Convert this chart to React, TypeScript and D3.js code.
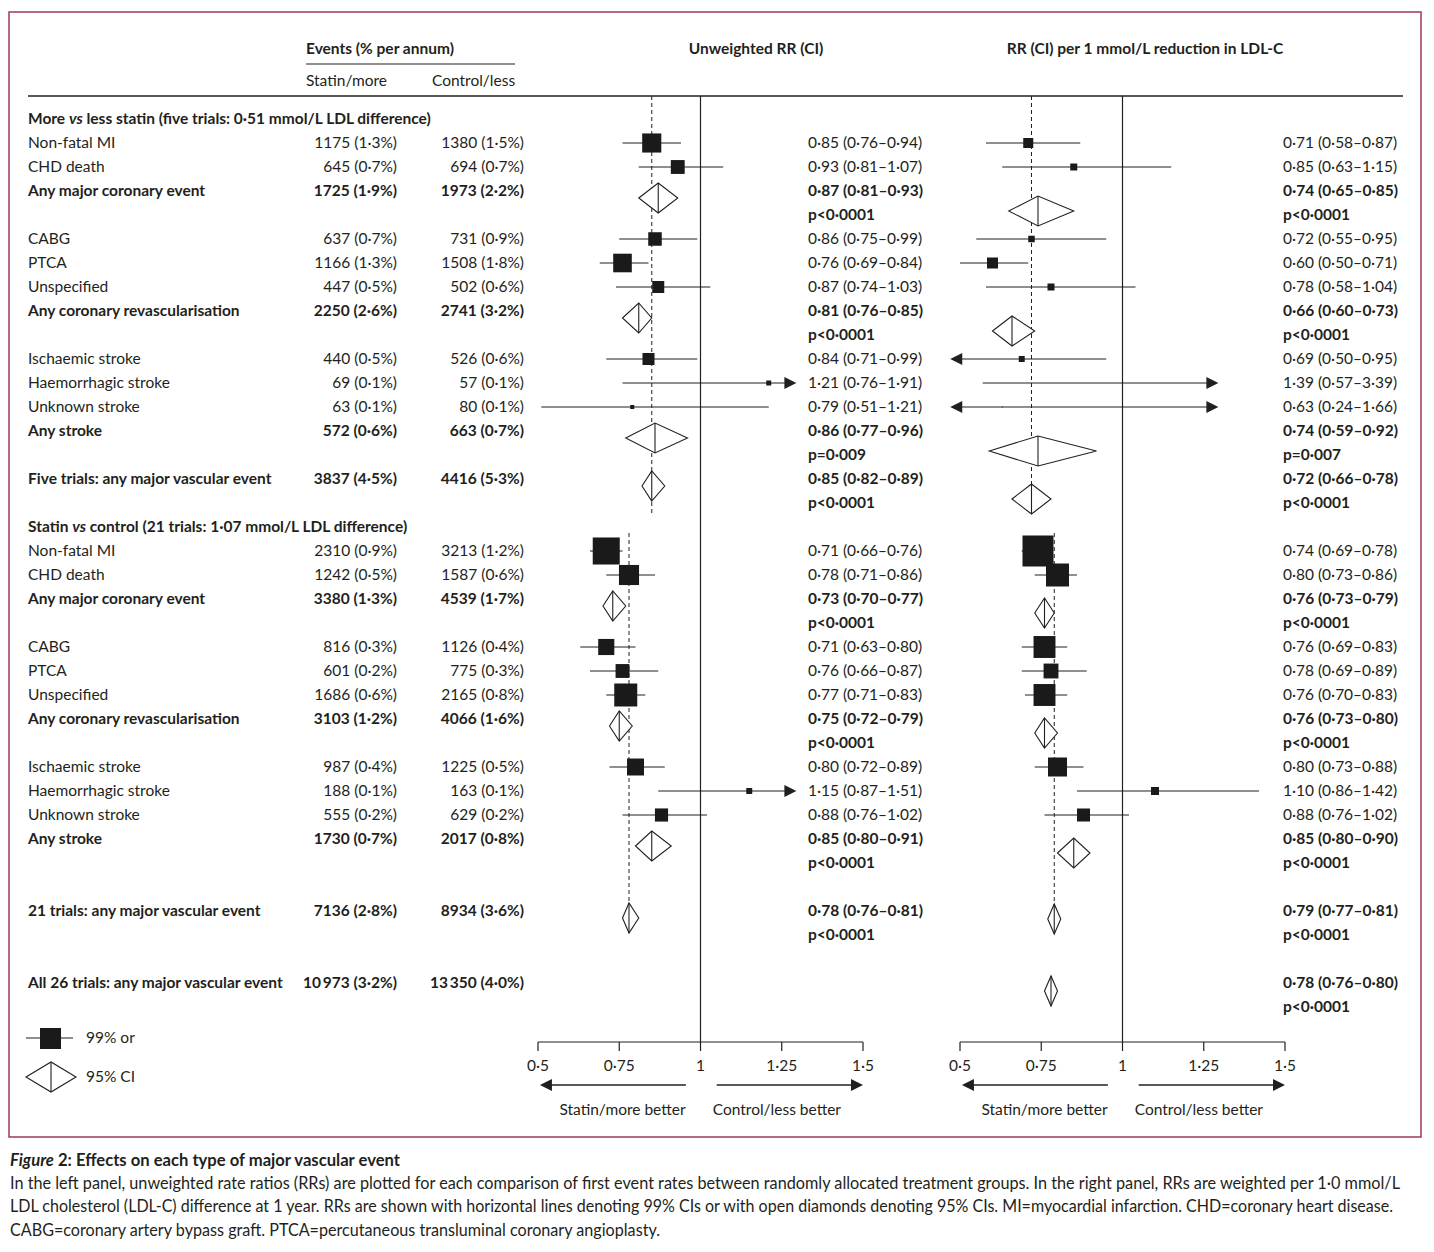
import * as d3 from "d3";

// ---- data ----
const sectionTitles = [
  ["More ", "vs", " less statin (five trials: 0·51 mmol/L LDL difference)"],
  ["Statin ", "vs", " control (21 trials: 1·07 mmol/L LDL difference)"],
];

const rowLabels = [
  "Non-fatal MI", "CHD death", "Any major coronary event", "CABG", "PTCA", "Unspecified",
  "Any coronary revascularisation", "Ischaemic stroke", "Haemorrhagic stroke", "Unknown stroke",
  "Any stroke", "Five trials: any major vascular event",
  "Non-fatal MI", "CHD death", "Any major coronary event", "CABG", "PTCA", "Unspecified",
  "Any coronary revascularisation", "Ischaemic stroke", "Haemorrhagic stroke", "Unknown stroke",
  "Any stroke", "21 trials: any major vascular event",
  "All 26 trials: any major vascular event",
];
const groupKinds = ["item", "item", "summary", "item", "item", "item", "summary", "item", "item", "item", "summary", "overall"];
const rowKinds = [...groupKinds, ...groupKinds, "overall"];
const rowSections = [...groupKinds.map(() => 0), ...groupKinds.map(() => 1), 1];

const statinEvents = [1175, 645, 1725, 637, 1166, 447, 2250, 440, 69, 63, 572, 3837, 2310, 1242, 3380, 816, 601, 1686, 3103, 987, 188, 555, 1730, 7136, 10973];
const statinPct = [1.3, 0.7, 1.9, 0.7, 1.3, 0.5, 2.6, 0.5, 0.1, 0.1, 0.6, 4.5, 0.9, 0.5, 1.3, 0.3, 0.2, 0.6, 1.2, 0.4, 0.1, 0.2, 0.7, 2.8, 3.2];
const controlEvents = [1380, 694, 1973, 731, 1508, 502, 2741, 526, 57, 80, 663, 4416, 3213, 1587, 4539, 1126, 775, 2165, 4066, 1225, 163, 629, 2017, 8934, 13350];
const controlPct = [1.5, 0.7, 2.2, 0.9, 1.8, 0.6, 3.2, 0.6, 0.1, 0.1, 0.7, 5.3, 1.2, 0.6, 1.7, 0.4, 0.3, 0.8, 1.6, 0.5, 0.1, 0.2, 0.8, 3.6, 4.0];

// unweighted rate ratios (left panel)
const uwRR = [0.85, 0.93, 0.87, 0.86, 0.76, 0.87, 0.81, 0.84, 1.21, 0.79, 0.86, 0.85, 0.71, 0.78, 0.73, 0.71, 0.76, 0.77, 0.75, 0.80, 1.15, 0.88, 0.85, 0.78, null];
const uwLo = [0.76, 0.81, 0.81, 0.75, 0.69, 0.74, 0.76, 0.71, 0.76, 0.51, 0.77, 0.82, 0.66, 0.71, 0.70, 0.63, 0.66, 0.71, 0.72, 0.72, 0.87, 0.76, 0.80, 0.76, null];
const uwHi = [0.94, 1.07, 0.93, 0.99, 0.84, 1.03, 0.85, 0.99, 1.91, 1.21, 0.96, 0.89, 0.76, 0.86, 0.77, 0.80, 0.87, 0.83, 0.79, 0.89, 1.51, 1.02, 0.91, 0.81, null];
const uwWeight = [38, 20, null, 19, 36, 15, null, 15, 2.6, 1.7, null, null, 76, 42, null, 27, 20, 55, null, 30, 3.7, 18, null, null, null];
const uwP = [null, null, "p<0·0001", null, null, null, "p<0·0001", null, null, null, "p=0·009", "p<0·0001", null, null, "p<0·0001", null, null, null, "p<0·0001", null, null, null, "p<0·0001", "p<0·0001", null];

// rate ratios per 1 mmol/L LDL-C reduction (right panel)
const pmRR = [0.71, 0.85, 0.74, 0.72, 0.60, 0.78, 0.66, 0.69, 1.39, 0.63, 0.74, 0.72, 0.74, 0.80, 0.76, 0.76, 0.78, 0.76, 0.76, 0.80, 1.10, 0.88, 0.85, 0.79, 0.78];
const pmLo = [0.58, 0.63, 0.65, 0.55, 0.50, 0.58, 0.60, 0.497, 0.57, 0.24, 0.59, 0.66, 0.69, 0.73, 0.73, 0.69, 0.69, 0.70, 0.73, 0.73, 0.86, 0.76, 0.80, 0.77, 0.76];
const pmHi = [0.87, 1.15, 0.85, 0.95, 0.71, 1.04, 0.73, 0.95, 3.39, 1.66, 0.92, 0.78, 0.78, 0.86, 0.79, 0.83, 0.89, 0.83, 0.80, 0.88, 1.42, 1.02, 0.90, 0.81, 0.80];
const pmWeight = [10.4, 5.1, null, 4.4, 12.6, 5.1, null, 3.7, 0.5, 0.1, null, null, 100, 55, null, 50, 23, 50, null, 37.6, 6.7, 17.6, null, null, null];
const pmP = [null, null, "p<0·0001", null, null, null, "p<0·0001", null, null, null, "p=0·007", "p<0·0001", null, null, "p<0·0001", null, null, null, "p<0·0001", null, null, null, "p<0·0001", "p<0·0001", "p<0·0001"];

const axisTicks = [0.5, 0.75, 1, 1.25, 1.5];
const directionLabels = ["Statin/more better", "Control/less better"];
const legendLabels = ["99% or", "95% CI"];

const captionTitle = ["Figure", " 2: Effects on each type of major vascular event"];
const captionLines = [
  "In the left panel, unweighted rate ratios (RRs) are plotted for each comparison of first event rates between randomly allocated treatment groups. In the right panel, RRs are weighted per 1·0 mmol/L",
  "LDL cholesterol (LDL-C) difference at 1 year. RRs are shown with horizontal lines denoting 99% CIs or with open diamonds denoting 95% CIs. MI=myocardial infarction. CHD=coronary heart disease.",
  "CABG=coronary artery bypass graft. PTCA=percutaneous transluminal coronary angioplasty.",
];

// ---- layout ----
const W = 1434;
const H = 1252;
const FONT = "Lato, 'Open Sans', sans-serif";
const INK = "#231f20";
const FS = 15.5;
const ROW0 = 119;
const ROWH = 24;
const RULE_Y = 96;
const AXIS_Y = 1042;
const ARROW_MIN = 0.47;
const ARROW_MAX = 1.295;

const fmt2 = (v: number) => v.toFixed(2).replace(".", "·");
const fmtTick = (v: number) => String(v).replace(".", "·");
const fmtCount = (n: number) => (n >= 10000 ? d3.format(",")(n).replace(",", "\u2009") : String(n));
const fmtEvents = (n: number, p: number) => `${fmtCount(n)} (${p.toFixed(1).replace(".", "·")}%)`;

// slot positions on the 24px grid
const headerSlots: number[] = [];
const rowSlots: number[] = [];
{
  let slot = 0;
  let sec = -1;
  rowLabels.forEach((_, i) => {
    if (rowSections[i] !== sec && i < 24) {
      sec = rowSections[i];
      headerSlots.push(slot);
      slot += 1;
    }
    if (rowKinds[i] === "overall" && rowSections[i] === 1) slot += 1;
    rowSlots[i] = slot;
    slot += rowKinds[i] === "item" ? 1 : 2;
  });
}
const yOf = (slot: number) => ROW0 + slot * ROWH;

const boxSide = d3.scaleSqrt().domain([0, 100]).range([0, 31]);

type PanelProps = {
  x: d3.ScaleLinear<number, number>;
  rr: (number | null)[];
  lo: (number | null)[];
  hi: (number | null)[];
  weight: (number | null)[];
  pText: (string | null)[];
  textX: number;
  right: boolean;
};

function Panel({ x, rr, lo, hi, weight, pText, textX, right }: PanelProps) {
  const marks: JSX.Element[] = [];
  // dashed reference lines at overall estimates of each section
  [0, 1].forEach((sec) => {
    const oi = rowLabels.findIndex((_, i) => rowSections[i] === sec && rowKinds[i] === "overall");
    const v = rr[oi] as number;
    const oy = yOf(rowSlots[oi]);
    const y1 = sec === 0 ? RULE_Y : yOf(headerSlots[1]) + 6;
    const y2 = sec === 0 ? oy + 34 : oy + 22;
    marks.push(
      <line key={`ref${sec}`} x1={x(v)} x2={x(v)} y1={y1} y2={y2} stroke={INK} strokeWidth={1} strokeDasharray="4 3" />
    );
  });
  marks.push(<line key="one" x1={x(1)} x2={x(1)} y1={RULE_Y} y2={AXIS_Y} stroke={INK} strokeWidth={1.2} />);

  rowLabels.forEach((_, i) => {
    const v = rr[i];
    if (v == null) return;
    const l = lo[i] as number;
    const h = hi[i] as number;
    const y = yOf(rowSlots[i]);
    const kind = rowKinds[i];
    const ciText = `${fmt2(v)} (${fmt2(l)}–${fmt2(h)})`;
    if (kind === "item") {
      const leftArrow = l < 0.5;
      const rightArrow = h > 1.5;
      const x1 = leftArrow ? x(ARROW_MIN) + 11 : x(l);
      const x2 = rightArrow ? x(ARROW_MAX) - 11 : x(h);
      marks.push(<line key={`ci${i}`} x1={x1} x2={x2} y1={y} y2={y} stroke={INK} strokeWidth={1.2} />);
      if (leftArrow) {
        const t = x(ARROW_MIN);
        marks.push(<path key={`la${i}`} d={`M${t},${y}L${t + 12},${y - 6}L${t + 12},${y + 6}Z`} fill={INK} />);
      }
      if (rightArrow) {
        const t = x(ARROW_MAX);
        marks.push(<path key={`ra${i}`} d={`M${t},${y}L${t - 12},${y - 6}L${t - 12},${y + 6}Z`} fill={INK} />);
      }
      if (v > ARROW_MIN && v < ARROW_MAX) {
        const s = boxSide(weight[i] as number);
        marks.push(<rect key={`b${i}`} x={x(v) - s / 2} y={y - s / 2} width={s} height={s} fill="#1a1a1a" />);
      }
      marks.push(
        <text key={`t${i}`} x={textX} y={y} dy="0.35em" fontSize={FS} fill={INK}>
          {ciText}
        </text>
      );
    } else {
      const shift = right ? (rowSections[i] === 0 ? 20 : kind === "summary" ? 14 : 8) : 7;
      const cy = y + shift;
      marks.push(
        <path
          key={`d${i}`}
          d={`M${x(l)},${cy}L${x(v)},${cy - 15}L${x(h)},${cy}L${x(v)},${cy + 15}Z`}
          fill="#fff"
          stroke={INK}
          strokeWidth={1.1}
        />
      );
      marks.push(<line key={`dv${i}`} x1={x(v)} x2={x(v)} y1={cy - 15} y2={cy + 15} stroke={INK} strokeWidth={1.1} />);
      marks.push(
        <text key={`t${i}`} x={textX} y={y} dy="0.35em" fontSize={FS} fontWeight={700} fill={INK}>
          {ciText}
        </text>
      );
      if (pText[i]) {
        marks.push(
          <text key={`p${i}`} x={textX} y={y + ROWH} dy="0.35em" fontSize={FS} fontWeight={700} fill={INK}>
            {pText[i]}
          </text>
        );
      }
    }
  });

  // axis
  const [d0, d1] = x.domain();
  marks.push(<line key="ax" x1={x(d0)} x2={x(d1)} y1={AXIS_Y} y2={AXIS_Y} stroke={INK} strokeWidth={1.2} />);
  axisTicks.forEach((t) => {
    marks.push(<line key={`tk${t}`} x1={x(t)} x2={x(t)} y1={AXIS_Y} y2={AXIS_Y + 9} stroke={INK} strokeWidth={1.2} />);
    marks.push(
      <text key={`tl${t}`} x={x(t)} y={AXIS_Y + 24} dy="0.35em" textAnchor="middle" fontSize={FS} fill={INK}>
        {fmtTick(t)}
      </text>
    );
  });
  const ay = AXIS_Y + 43;
  const la = [x(0.955), x(0.506)];
  const ra = [x(1.05), x(1.5)];
  marks.push(<line key="al" x1={la[0]} x2={la[1] + 11} y1={ay} y2={ay} stroke={INK} strokeWidth={1.5} />);
  marks.push(<path key="alh" d={`M${la[1]},${ay}L${la[1] + 12},${ay - 6}L${la[1] + 12},${ay + 6}Z`} fill={INK} />);
  marks.push(<line key="ar" x1={ra[0]} x2={ra[1] - 11} y1={ay} y2={ay} stroke={INK} strokeWidth={1.5} />);
  marks.push(<path key="arh" d={`M${ra[1]},${ay}L${ra[1] - 12},${ay - 6}L${ra[1] - 12},${ay + 6}Z`} fill={INK} />);
  marks.push(
    <text key="dl0" x={x(0.76)} y={AXIS_Y + 68} dy="0.35em" textAnchor="middle" fontSize={FS} fill={INK}>
      {directionLabels[0]}
    </text>
  );
  marks.push(
    <text key="dl1" x={x(1.235)} y={AXIS_Y + 68} dy="0.35em" textAnchor="middle" fontSize={FS} fill={INK}>
      {directionLabels[1]}
    </text>
  );
  return <g>{marks}</g>;
}

export default function App() {
  const xLeft = d3.scaleLinear().domain([0.5, 1.5]).range([538, 863]);
  const xRight = d3.scaleLinear().domain([0.5, 1.5]).range([960, 1285]);

  return (
    <svg
      width={W}
      height={H}
      viewBox={`0 0 ${W} ${H}`}
      style={{ position: "absolute", left: 0, top: 0, background: "#fff" }}
      fontFamily={FONT}
    >
      <rect x={0} y={0} width={W} height={H} fill="#fff" />
      <rect x={9} y={12} width={1412} height={1125} fill="none" stroke="#a3365f" strokeWidth={1.5} />

      {/* column headers */}
      <text x={306} y={49} dy="0.35em" fontSize={FS} fontWeight={700} fill={INK}>Events (% per annum)</text>
      <line x1={306} x2={515} y1={64} y2={64} stroke={INK} strokeWidth={1.2} />
      <text x={306} y={81} dy="0.35em" fontSize={FS} fill={INK}>Statin/more</text>
      <text x={432} y={81} dy="0.35em" fontSize={FS} fill={INK}>Control/less</text>
      <text x={756} y={49} dy="0.35em" textAnchor="middle" fontSize={FS} fontWeight={700} fill={INK}>Unweighted RR (CI)</text>
      <text x={1145} y={49} dy="0.35em" textAnchor="middle" fontSize={FS} fontWeight={700} fill={INK}>
        RR (CI) per 1 mmol/L reduction in LDL-C
      </text>
      <line x1={28} x2={1403} y1={RULE_Y} y2={RULE_Y} stroke={INK} strokeWidth={1.5} />

      {/* section titles */}
      {sectionTitles.map((t, s) => (
        <text key={`sec${s}`} x={28} y={yOf(headerSlots[s])} dy="0.35em" fontSize={FS} fontWeight={700} fill={INK}>
          {t[0]}
          <tspan fontStyle="italic">{t[1]}</tspan>
          {t[2]}
        </text>
      ))}

      {/* row labels and event counts */}
      {rowLabels.map((lab, i) => {
        const y = yOf(rowSlots[i]);
        const fw = rowKinds[i] === "item" ? 400 : 700;
        return (
          <g key={`row${i}`} fontSize={FS} fill={INK} fontWeight={fw}>
            <text x={28} y={y} dy="0.35em">{lab}</text>
            <text x={397} y={y} dy="0.35em" textAnchor="end">{fmtEvents(statinEvents[i], statinPct[i])}</text>
            <text x={524} y={y} dy="0.35em" textAnchor="end">{fmtEvents(controlEvents[i], controlPct[i])}</text>
          </g>
        );
      })}

      <Panel x={xLeft} rr={uwRR} lo={uwLo} hi={uwHi} weight={uwWeight} pText={uwP} textX={808} right={false} />
      <Panel x={xRight} rr={pmRR} lo={pmLo} hi={pmHi} weight={pmWeight} pText={pmP} textX={1283} right={true} />

      {/* legend */}
      <line x1={26} x2={73} y1={1038} y2={1038} stroke={INK} strokeWidth={1.2} />
      <rect x={40} y={1028} width={21} height={21} fill="#1a1a1a" />
      <text x={86} y={1038} dy="0.35em" fontSize={FS} fill={INK}>{legendLabels[0]}</text>
      <path d="M26,1077L51,1062L76,1077L51,1092Z" fill="#fff" stroke={INK} strokeWidth={1.1} />
      <line x1={51} x2={51} y1={1062} y2={1092} stroke={INK} strokeWidth={1.1} />
      <text x={86} y={1077} dy="0.35em" fontSize={FS} fill={INK}>{legendLabels[1]}</text>

      {/* caption */}
      <text x={10} y={1160} dy="0.35em" fontSize={16.5} fontWeight={700} fill={INK} textLength={390} lengthAdjust="spacingAndGlyphs">
        <tspan fontStyle="italic">{captionTitle[0]}</tspan>
        {captionTitle[1]}
      </text>
      {captionLines.map((line, k) => (
        <text
          key={`cap${k}`}
          x={10}
          y={1183 + k * 23.5}
          dy="0.35em"
          fontSize={16.5}
          fill={INK}
          textLength={[1390, 1383, 650][k]}
          lengthAdjust="spacingAndGlyphs"
        >
          {line}
        </text>
      ))}
    </svg>
  );
}
